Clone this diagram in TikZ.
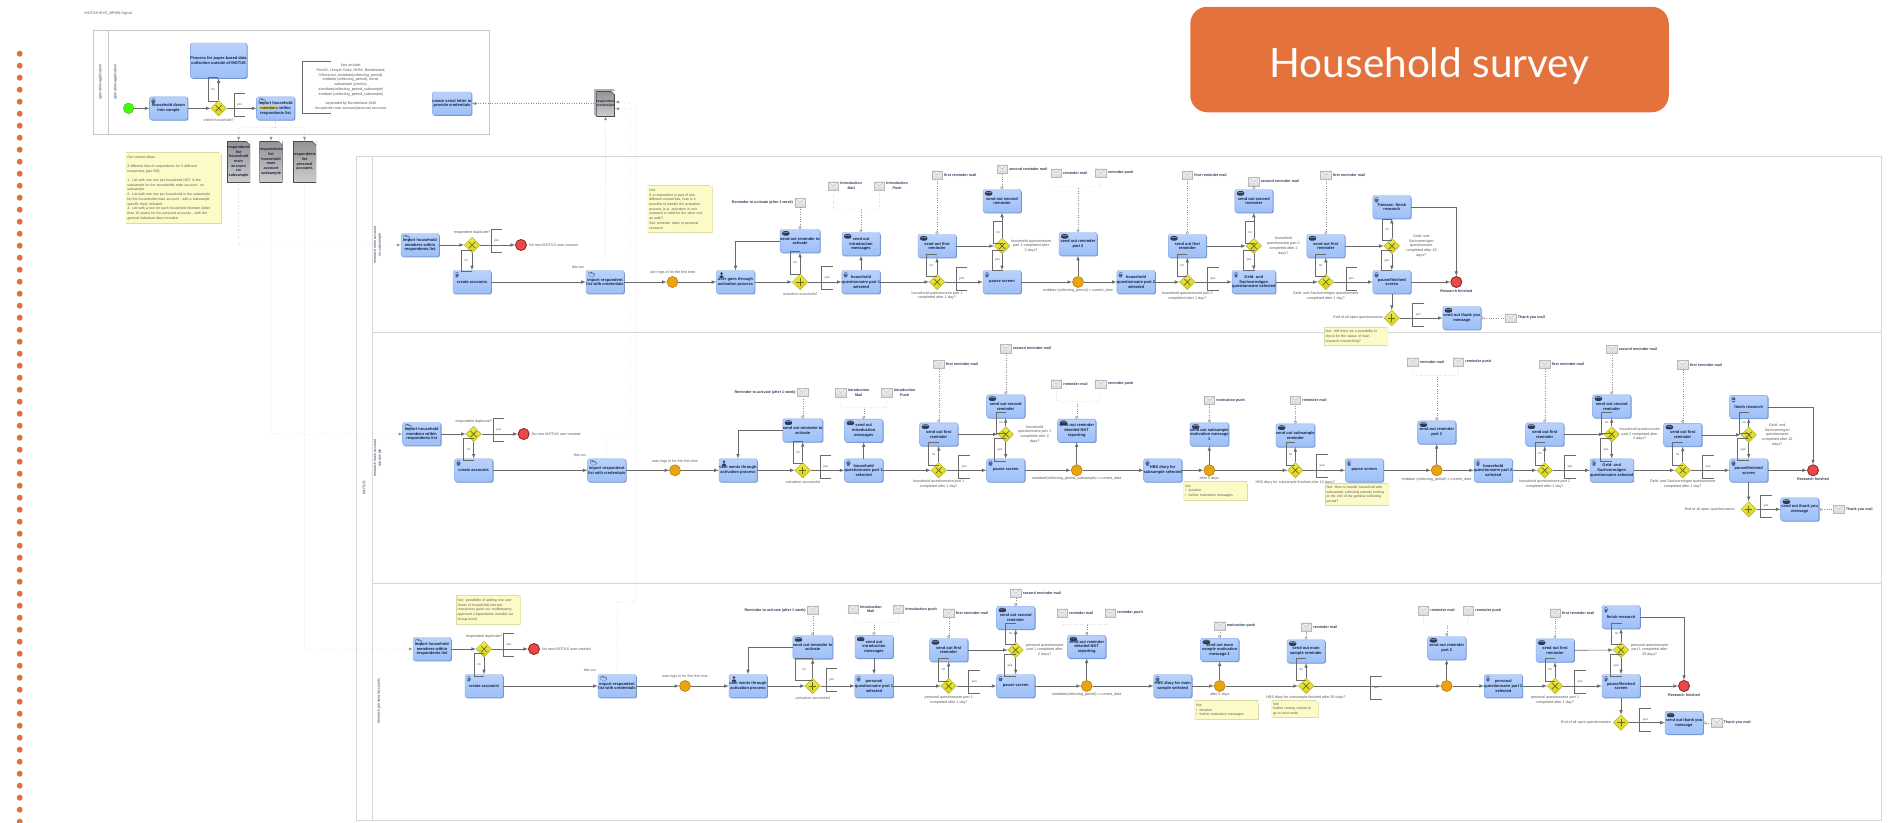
\documentclass[tikz,border=0pt]{standalone}
\usepackage{fontspec}
\setmainfont{Liberation Sans}
\newfontfamily\titlefont{Lato}
\usetikzlibrary{shapes.geometric,shadows,arrows.meta}
\definecolor{accent}{HTML}{E4723C}
\definecolor{taskhi}{HTML}{B9D2FC}
\definecolor{tasklo}{HTML}{9DC0F8}
\definecolor{taskline}{HTML}{7FA4E2}
\definecolor{taskshade}{HTML}{6F8FC4}
\definecolor{tasktext}{HTML}{16233F}
\definecolor{taskicon}{HTML}{4C6696}
\definecolor{iconink}{HTML}{2E3C58}
\definecolor{flowline}{HTML}{6A6A6A}
\definecolor{lblgray}{HTML}{5A5A5A}
\definecolor{dotline}{HTML}{8E8E8E}
\definecolor{poolline}{HTML}{D6D6D6}
\definecolor{gatefill}{HTML}{E8E41E}
\definecolor{gateline}{HTML}{B4B020}
\definecolor{gatemark}{HTML}{6E6C10}
\definecolor{timerfill}{HTML}{EBA40E}
\definecolor{timerline}{HTML}{B87C10}
\definecolor{endfill}{HTML}{EC4848}
\definecolor{endline}{HTML}{8A2A2A}
\definecolor{notefill}{HTML}{FCFBC8}
\definecolor{noteline}{HTML}{DCDCA8}
\definecolor{markhi}{HTML}{F0E068}
\newcommand{\tasksize}{\fontsize{4}{4.7}\selectfont}
\newcommand{\lblsize}{\fontsize{3.7}{4.7}\selectfont}
\newcommand{\annotbox}[6]{%
  \node (#1)[annot, minimum width=#4pt, minimum height=#5pt] at (#2,#3) {#6};
  \draw[annotline] (#1.north east) -- (#1.north west) -- (#1.south west) -- (#1.south east);}
\tikzset{
  pool/.style={draw=poolline, line width=1pt},
  lbl/.style={align=center, inner sep=0pt, text=lblgray, font=\lblsize},
  mailtext/.style={lbl, text=iconink, font=\lblsize\bfseries},
  lanetext/.style={lbl, text=iconink, rotate=90},
  flow/.style={->, >=latex, draw=flowline, line width=.6pt},
  assoc/.style={>=latex, draw=dotline, line width=.4pt, dotted, rounded corners=1.5pt},
  msg/.style={assoc, {Circle[open, fill=white, length=3pt]}-},
  annot/.style={anchor=north west, inner sep=0pt, outer sep=0pt, text=lblgray, font=\fontsize{3.2}{4}\selectfont},
  annotline/.style={draw=flowline, line width=.5pt},
  task/.style={rectangle, rounded corners=2pt, draw=taskline, line width=.4pt, top color=taskhi, bottom color=tasklo,
    minimum width=38pt, minimum height=23pt, inner sep=0pt, align=center, text=tasktext, font=\tasksize\bfseries,
    general shadow={shadow xshift=.8pt, shadow yshift=-.8pt, fill=taskshade}},
  svctask/.style={task, path picture={
    \draw[taskicon, line width=.3pt] ([shift={(2pt,-1.8pt)}]path picture bounding box.north west) rectangle ++(3.6pt,-5pt);
    \draw[taskicon, line width=.3pt] ([shift={(2.6pt,-3.2pt)}]path picture bounding box.north west) -- ++(2.4pt,0pt) ++(-2.4pt,-1.1pt) -- ++(2.4pt,0pt) ++(-2.4pt,-1.1pt) -- ++(2.4pt,0pt);}},
  foldertask/.style={task, path picture={
    \draw[taskicon, line width=.3pt] ([shift={(2pt,-2pt)}]path picture bounding box.north west) -- ++(3pt,0pt) -- ++(1pt,-1pt) -- ++(3.4pt,0pt) -- ++(-1pt,-3.4pt) -- ++(-5.4pt,0pt) -- cycle;}},
  mailtask/.style={task, path picture={
    \fill[iconink] ([shift={(2pt,-1.6pt)}]path picture bounding box.north west) rectangle ++(7.4pt,-4.4pt);
    \draw[white, line width=.25pt] ([shift={(2.6pt,-2.2pt)}]path picture bounding box.north west) -- ++(3.1pt,-1.6pt) -- ++(3.1pt,1.6pt);}},
  usertask/.style={task, path picture={
    \fill[iconink] ([shift={(5pt,-3pt)}]path picture bounding box.north west) circle (1.4pt);
    \fill[iconink] ([shift={(2.2pt,-7.4pt)}]path picture bounding box.north west) -- ++(1.4pt,3pt) -- ++(2.8pt,0pt) -- ++(1.4pt,-3pt) -- cycle;}},
  gate/.style={diamond, shape aspect=1, minimum width=15.5pt, minimum height=15.5pt, inner sep=0pt,
    draw=gateline, line width=.5pt, top color=gatefill!80!white, bottom color=gatefill!92!black},
  gatex/.style={gate, path picture={
    \draw[gatemark, line width=.7pt] ([shift={(-3pt,3pt)}]path picture bounding box.center) -- ++(6pt,-6pt) ++(-6pt,0pt) -- ++(6pt,6pt);}},
  gateplus/.style={gate, path picture={
    \draw[gatemark, line width=.7pt] ([shift={(-3.6pt,0pt)}]path picture bounding box.center) -- ++(7.2pt,0pt) ++(-3.6pt,3.6pt) -- ++(0pt,-7.2pt);}},
  startev/.style={circle, minimum size=10.5pt, inner sep=0pt, fill=green!75!yellow, draw=green!45!gray, line width=.5pt},
  timer/.style={circle, minimum size=11pt, inner sep=0pt, fill=timerfill, draw=timerline, line width=.6pt},
  endev/.style={circle, minimum size=11pt, inner sep=0pt, fill=endfill, draw=endline, line width=.9pt},
  mail/.style={rectangle, minimum width=10.5pt, minimum height=8.5pt, inner sep=0pt, top color=gray!10, bottom color=gray!30, draw=gray!55, line width=.3pt,
    path picture={\draw[gray!60, line width=.25pt] (path picture bounding box.north west) -- (path picture bounding box.center) -- (path picture bounding box.north east);}},
  mailr/.style={mail, label={[mailtext, label distance=1.5pt]right:#1}},
  maill/.style={mail, label={[mailtext, label distance=1.5pt]left:#1}},
  note/.style={rectangle, anchor=north west, inner sep=1.5pt, fill=notefill, align=left, text=lblgray, font=\fontsize{3.5}{4.7}\selectfont,
    path picture={
      \draw[noteline, line width=1pt] (path picture bounding box.north west) rectangle (path picture bounding box.south east);
      \fill[white] ([xshift=-3pt]path picture bounding box.north east) -- (path picture bounding box.north east) -- ([yshift=-3pt]path picture bounding box.north east) -- cycle;
      \draw[noteline, line width=.4pt] ([xshift=-3pt]path picture bounding box.north east) -- ([yshift=-3pt]path picture bounding box.north east);}},
  doc/.style={rectangle, minimum height=41pt, inner sep=0pt, align=center, top color=gray!85, bottom color=gray!40, text=tasktext, font=\fontsize{3.8}{4.7}\selectfont\bfseries,
    path picture={
      \draw[gray!60!black, line width=.7pt] (path picture bounding box.north west) rectangle (path picture bounding box.south east);
      \fill[white] ([xshift=-4pt]path picture bounding box.north east) -- (path picture bounding box.north east) -- ([yshift=-4pt]path picture bounding box.north east) -- cycle;
      \draw[gray!60!black, line width=.4pt] ([xshift=-4pt]path picture bounding box.north east) -- ([yshift=-4pt]path picture bounding box.north east);}},
}
\begin{document}
\begin{tikzpicture}[x=1pt,y=-1pt]
  \useasboundingbox (0,0) rectangle (1895,822);
  \foreach \k in {0,...,64}
    \fill[accent] (19.7,53.7+12*\k) circle (3pt);
  \node (title)[rectangle, rounded corners=17pt, fill=accent, minimum width=478.5pt, minimum height=105.5pt] at (1429.5,59.5) {};
  \node (titlet)[text=white, inner sep=0pt, font=\titlefont\fontsize{40.5}{46}\selectfont] at (1429.5,65.7) {Household survey};
  \node (file)[lbl, anchor=west] at (84.5,14) {MOTUS+EVS\_BPMN:Signal};
  % pools
  \draw[pool, draw=gray!45] (93,30.7) rectangle (489,134);
  \draw[pool, draw=gray!45] (108.6,30.7) -- (108.6,134);
  \draw[pool] (356.7,156.7) rectangle (1881,820);
  \draw[pool] (372.3,156.7) -- (372.3,820);
  \draw[pool] (372.3,332.7) -- (1881,332.7);
  \draw[pool] (372.3,583.3) -- (1881,583.3);
  \node (oplane)[lanetext] at (100.4,82) {operation-application};
  \node (oplane2)[lanetext] at (115.5,82) {operation-application};
  \node (motus)[lanetext] at (364,488) {MOTUS};
  \node (lanea)[lanetext] at (377.5,245) {research main account\\no subsample};
  \node (laneb)[lanetext] at (377.5,458) {research main account\\subsample};
  \node (lanec)[lanetext] at (379,701) {research personal accounts};
  % operation lane
  \node (st)[startev] at (128.6,108.3) {};
  \node (drw)[svctask, node distance=40pt, right of=st] {household drawn\\into sample};
  \node (onl)[gatex, node distance=50pt, right of=drw] {};
  \node (onll)[lbl, node distance=12pt, below of=onl] {online household?};
  \node (big)[task, minimum width=56.4pt, minimum height=35pt, node distance=47.8pt, above of=onl] {Process for paper-based data\\collection outside of MOTUS};
  \node (imh)[foldertask, node distance=57pt, right of=onl] {import household\\{\fboxsep0pt\colorbox{markhi}{members}} within\\respondents list};
  \annotbox{onln}{208}{77.7}{10.4}{23.3}{no}
  \annotbox{only}{234}{93.3}{11}{23.4}{yes}
  \annotbox{lstb}{302}{61}{29.4}{52}{}
  \node (lstt)[lbl] at (351,87) {lists include:\\PersID, Unique Code, HHNr, Bundesland,\\IVKontrast, startdate(collecting\_period),\\enddate (collecting\_period), email,\\subsample (yes/no),\\startdate(collecting\_period\_subsample)\\enddate (collecting\_period\_subsample)\\[4.7pt]seperated by Bundesland AND\\household main account/personal accounts};
  \node (ser)[task] at (452,103.5) {create serial letter to\\provide credentials};
  \node (cred)[doc, minimum width=18pt, minimum height=25pt, double copy shadow={shadow xshift=-1pt, shadow yshift=1pt, fill=gray!50, draw=gray!60}, font=\fontsize{3.4}{4.2}\selectfont\bfseries] at (605.5,103.5) {respondent\\credentials};
  \node (doca)[doc, minimum width=22.5pt] at (238.6,161.5) {respondents\\list\\household\\main\\account\\no\\subsample};
  \node (docb)[doc, minimum width=22.8pt] at (271,161.5) {respondents\\list\\household\\main\\account\\subsample};
  \node (docc)[doc, minimum width=23pt] at (304.5,161.5) {respondents\\list\\personal\\accounts};
  \node (idea)[note, text width=93pt, minimum height=71pt] at (125.7,152) {Our current ideas:\\[4.7pt]3 different lists of respondents for 3 different\\researches (per RD):\\[4.7pt]1. List with one row per household NOT in the\\subsample for the households main account - no\\subsample\\2. List with one row per household in the subsample\\for the households main account - with a subsample\\specific diary included\\3. List with a row for each household member (older\\than 16 years) for the personal accounts - with the\\general individual diary included};
  \draw[flow] (st.east) to (drw.west);
  \draw[flow] (drw.east) to (onl.west);
  \draw[flow] (onl.east) to (imh.west);
  \draw[flow] (onl.north) to (big.south);
  \node (split)[coordinate] at (275.5,127.7) {};
  \draw[assoc] (imh.south) to (split);
  \draw[assoc,->] (split) -| (doca.north);
  \draw[assoc,->] (split) -| (docb.north);
  \draw[assoc,->] (split) -| (docc.north);
  \draw[assoc,->] (cred.west) to (ser.east);
  % research main account, no subsample
  \node (imp1)[foldertask] at (420,245) {import household\\members within\\respondents list};
  \node (dup1)[gatex, node distance=52pt, right of=imp1] {};
  \node (dup1l)[lbl, node distance=12pt, above of=dup1] {respondent duplicate?};
  \annotbox{dup1y}{491}{229.3}{11}{23.4}{yes}
  \node (dup1e)[endev, node distance=49pt, right of=dup1, label={[lbl, label distance=2pt]right:No new MOTUS user created}] {};
  \node (acc1)[svctask, node distance=37pt, below of=dup1] {create accounts};
  \annotbox{dup1n}{461}{250}{10.7}{21.7}{no}
  \node (imc1)[foldertask, node distance=133pt, right of=acc1] {import respondent\\list with credentials};
  \node (imc1l)[lbl] at (578,266.7) {this.csv};
  \node (log1)[timer, node distance=67.5pt, right of=imc1] {};
  \node (log1l)[lbl, node distance=9pt, above of=log1] {user logs in for the first time};
  \node (act1)[usertask, node distance=63pt, right of=log1] {user goes through\\activation process};
  \node (gact1)[gateplus, node distance=64.5pt, right of=act1] {};
  \node (gact1l)[lbl, node distance=12pt, below of=gact1] {activation successful};
  \node (rem1)[mailtask, node distance=41pt, above of=gact1] {send out reminder to\\activate};
  \node (rem1m)[maill={Reminder to activate (after 1 week)}, node distance=38.5pt, above of=rem1] {};
  \annotbox{gact1n}{790.3}{251.7}{9.7}{22.3}{no}
  \annotbox{gact1y}{821.7}{266.7}{11}{22.6}{yes}
  \node (q11)[svctask, node distance=61pt, right of=gact1] {household\\questionnaire part 1\\selected};
  \node (int1)[mailtask, node distance=38pt, above of=q11] {send out\\introduction\\messages};
  \node (int1j)[coordinate, node distance=34pt, above of=int1] {};
  \node (int1a)[mailr={Introduction\\Mail}] at (833.3,186) {};
  \node (int1b)[mailr={Introduction\\Push}] at (879.3,186) {};
  \node (g11)[gatex, node distance=76pt, right of=q11] {};
  \node (g11l)[lbl, node distance=13.5pt, below of=g11] {household questionnaire part 1\\completed after 1 day?};
  \node (fr11)[mailtask, node distance=36pt, above of=g11] {send out first\\reminder};
  \node (fr11m)[mailr={first reminder mail}, node distance=71pt, above of=fr11] {};
  \annotbox{g11n}{926.3}{254}{10.4}{22.7}{no}
  \annotbox{g11y}{956}{267.3}{11.3}{22.7}{yes}
  \node (pz1)[svctask, node distance=65pt, right of=g11] {pause screen};
  \node (g12)[gatex, node distance=36pt, above of=pz1] {};
  \node (g12l)[lbl, node distance=29pt, right of=g12] {household questionnaire\\part 1 completed after\\2 days?};
  \node (sr11)[mailtask, node distance=45pt, above of=g12] {send out second\\reminder};
  \node (sr11m)[mailr={second reminder mail}, node distance=32pt, above of=sr11] {};
  \annotbox{g12n}{993.3}{221.7}{9.4}{21.6}{no}
  \annotbox{g12y}{992.3}{250.7}{10.4}{19.3}{yes}
  \node (t11)[timer, node distance=76pt, right of=pz1] {};
  \node (t11l)[lbl, node distance=9pt, below of=t11] {enddate (collecting\_period) = current\_date};
  \node (rp1)[mailtask, node distance=38pt, above of=t11] {send out reminder\\part 2};
  \node (rp1j)[coordinate, node distance=57pt, above of=rp1] {};
  \node (rp1a)[mailr={reminder mail}] at (1056,173) {};
  \node (rp1b)[mailr={reminder push}] at (1100.7,173) {};
  \node (q12)[svctask, node distance=58pt, right of=t11] {household\\questionnaire part 2\\selected};
  \node (g13)[gatex, node distance=51.3pt, right of=q12] {};
  \node (g13l)[lbl, node distance=14pt, below of=g13] {household questionnaire part 2\\completed after 1 day?};
  \node (fr12)[mailtask, node distance=36pt, above of=g13] {send out first\\reminder};
  \node (fr12m)[mailr={first reminder mail}, node distance=71pt, above of=fr12] {};
  \annotbox{g13n}{1177.3}{254}{10}{22.7}{no}
  \annotbox{g13y}{1207.3}{267.3}{11.4}{22.7}{yes}
  \node (gld1)[svctask, node distance=66.5pt, right of=g13] {Geld- und\\Sachvermögen\\questionnaire selected};
  \node (g14)[gatex, node distance=36pt, above of=gld1] {};
  \node (g14l)[lbl, node distance=29.5pt, right of=g14] {household\\questionnaire part 2\\completed after 2\\days?};
  \node (sr12)[mailtask, node distance=45pt, above of=g14] {send out second\\reminder};
  \node (sr12m)[mailr={second reminder mail}, node distance=19.5pt, above of=sr12] {};
  \annotbox{g14n}{1245}{221.7}{9.7}{21.6}{no}
  \annotbox{g14y}{1243.3}{250.7}{11.4}{19.3}{yes}
  \node (g15)[gatex, node distance=72pt, right of=gld1] {};
  \node (g15l)[lbl, node distance=14pt, below of=g15] {Geld- und Sachvermögen questionnaire\\completed after 1 day?};
  \node (fr13)[mailtask, node distance=36pt, above of=g15] {send out first\\reminder};
  \node (fr13m)[mailr={first reminder mail}, node distance=71pt, above of=fr13] {};
  \annotbox{g15n}{1315.7}{254}{10}{22.7}{no}
  \annotbox{g15y}{1346}{267.3}{10.7}{22.7}{yes}
  \node (pf1)[svctask, node distance=66pt, right of=g15] {pause/finished\\screen};
  \node (g16)[gatex, node distance=36pt, above of=pf1] {};
  \node (g16l)[lbl, node distance=29.5pt, right of=g16] {Geld- und\\Sachvermögen\\questionnaire\\completed after 15\\days?};
  \node (fin1)[svctask, node distance=39pt, above of=g16] {Timeout: finish\\research};
  \annotbox{g16n}{1382.7}{219}{9.1}{21}{no}
  \annotbox{g16y}{1381.7}{250.7}{10.1}{20}{yes}
  \node (end1)[endev, node distance=64.5pt, right of=pf1] {};
  \node (end1l)[mailtext, node distance=9pt, below of=end1] {Research finished};
  \node (g17)[gateplus, node distance=36pt, below of=pf1] {};
  \node (g17l)[lbl, node distance=33.5pt, left of=g17] {End of all open questionnaires};
  \annotbox{g17y}{1412.7}{303.3}{11.3}{22.7}{yes}
  \node (thk1)[mailtask, node distance=70pt, right of=g17] {send out thank you\\message};
  \node (thk1m)[mailr={Thank you mail}, node distance=49pt, right of=thk1] {};
  \node (nsta)[note, text width=61pt, minimum height=18.4pt] at (1324,327.3) {Not: Will there be a possibility to\\check for the status of main\\research overarching?};
  \node (nact)[note, text width=61.6pt, minimum height=47.7pt] at (647.7,185) {Not:\\If a respondent is part of two\\different researches, how is it\\possible to handle the activation\\process (e.g. activation in one\\research is valid for the other one\\as well)?\\See reminder mails in personal\\research};
  \draw[flow] (imp1.east) to (dup1.west);
  \draw[flow] (dup1.east) to (dup1e.west);
  \draw[flow] (dup1.south) to (acc1.north);
  \draw[flow] (acc1.east) to (imc1.west);
  \draw[flow] (imc1.east) to (log1.west);
  \draw[flow] (log1.east) to (act1.west);
  \draw[flow] (act1.east) to (gact1.west);
  \draw[flow] (gact1.north) to (rem1.south);
  \draw[flow] (rem1.west) -| (act1.north);
  \draw[flow] (gact1.east) to (q11.west);
  \draw[flow] (q11.north) to (int1.south);
  \draw[flow] (q11.east) to (g11.west);
  \draw[flow] (g11.north) to (fr11.south);
  \draw[flow] (fr11.east) to (g12.west);
  \draw[flow] (g11.east) to (pz1.west);
  \draw[flow] (g12.south) to (pz1.north);
  \draw[flow] (g12.north) to (sr11.south);
  \draw[flow] (pz1.east) to (t11.west);
  \draw[flow] (t11.north) to (rp1.south);
  \draw[flow] (t11.east) to (q12.west);
  \draw[flow] (q12.east) to (g13.west);
  \draw[flow] (g13.north) to (fr12.south);
  \draw[flow] (fr12.east) to (g14.west);
  \draw[flow] (g13.east) to (gld1.west);
  \draw[flow] (g14.south) to (gld1.north);
  \draw[flow] (g14.north) to (sr12.south);
  \draw[flow] (gld1.east) to (g15.west);
  \draw[flow] (g15.north) to (fr13.south);
  \draw[flow] (fr13.east) to (g16.west);
  \draw[flow] (g15.east) to (pf1.west);
  \draw[flow] (g16.south) to (pf1.north);
  \draw[flow] (g16.north) to (fin1.south);
  \draw[flow] (pf1.east) to (end1.west);
  \draw[flow] (fin1.east) -| (end1.north);
  \draw[flow] (pf1.south) to (g17.north);
  \draw[flow] (g17.east) to (thk1.west);
  \draw[msg] (rem1.north) to (rem1m.south);
  \draw[msg] (int1.north) to (int1j);
  \draw[assoc] (int1a.south) |- (int1j) -| (int1b.south);
  \draw[msg] (fr11.north) to (fr11m.south);
  \draw[msg] (sr11.north) to (sr11m.south);
  \draw[msg] (rp1.north) to (rp1j);
  \draw[assoc] (rp1a.south) |- (rp1j) -| (rp1b.south);
  \draw[msg] (fr12.north) to (fr12m.south);
  \draw[msg] (sr12.north) to (sr12m.south);
  \draw[msg] (fr13.north) to (fr13m.south);
  \draw[msg] (thk1.east) to (thk1m.west);
  % research main account, subsample
  \node (imp2)[foldertask] at (421.7,434) {import household\\members within\\respondents list};
  \node (dup2)[gatex, node distance=52pt, right of=imp2] {};
  \node (dup2l)[lbl, node distance=12pt, above of=dup2] {respondent duplicate?};
  \annotbox{dup2y}{493.3}{418.3}{10.7}{22.7}{yes}
  \node (dup2e)[endev, node distance=50pt, right of=dup2, label={[lbl, label distance=2pt]right:No new MOTUS user created}] {};
  \node (acc2)[svctask, node distance=36.3pt, below of=dup2] {create accounts};
  \annotbox{dup2n}{463.7}{438.7}{10}{22}{no}
  \node (imc2)[foldertask, node distance=133pt, right of=acc2] {import respondent\\list with credentials};
  \node (imc2l)[lbl] at (580,455) {this.csv};
  \node (log2)[timer, node distance=68.3pt, right of=imc2] {};
  \node (log2l)[lbl, node distance=9pt, above of=log2] {user logs in for the first time};
  \node (act2)[usertask, node distance=63pt, right of=log2] {user wents through\\activation process};
  \node (gact2)[gateplus, node distance=64.7pt, right of=act2] {};
  \node (gact2l)[lbl, node distance=11.7pt, below of=gact2] {activation successful};
  \node (rem2)[mailtask, node distance=40pt, above of=gact2] {send out reminder to\\activate};
  \node (rem2m)[maill={Reminder to activate (after 1 week)}, node distance=38pt, above of=rem2] {};
  \annotbox{gact2n}{793}{441}{9.7}{22.3}{no}
  \annotbox{gact2y}{820.3}{455.3}{11}{22.7}{yes}
  \node (q21)[svctask, node distance=61pt, right of=gact2] {household\\questionnaire part 1\\selected};
  \node (int2)[mailtask, node distance=39.7pt, above of=q21] {send out\\introduction\\messages};
  \node (int2j)[coordinate, node distance=22.7pt, above of=int2] {};
  \node (int2a)[mailr={Introduction\\Mail}] at (840.7,392.5) {};
  \node (int2b)[mailr={Introduction\\Push}] at (886.7,392.5) {};
  \node (g21)[gatex, node distance=75pt, right of=q21] {};
  \node (g21l)[lbl, node distance=14pt, below of=g21] {household questionnaire part 1\\completed after 1 day?};
  \node (fr21)[mailtask, node distance=36pt, above of=g21] {send out first\\reminder};
  \node (fr21m)[mailr={first reminder mail}, node distance=70pt, above of=fr21] {};
  \annotbox{g21n}{928.7}{442.7}{10}{23}{no}
  \annotbox{g21y}{958.7}{455.3}{11.3}{22.7}{yes}
  \node (pz2)[svctask, node distance=67pt, right of=g21] {pause screen};
  \node (g22)[gatex, node distance=36pt, above of=pz2] {};
  \node (g22l)[lbl, node distance=29pt, right of=g22] {household\\questionnaire part 1\\completed after 2\\days?};
  \node (sr21)[mailtask, node distance=28pt, above of=g22] {send out second\\reminder};
  \node (sr21m)[mailr={second reminder mail}, node distance=57.7pt, above of=sr21] {};
  \annotbox{g22n}{996}{412.3}{9.7}{21}{no}
  \annotbox{g22y}{994.3}{438.7}{11.4}{23}{yes}
  \node (t21)[timer, node distance=71pt, right of=pz2] {};
  \node (t21l)[lbl, node distance=8pt, below of=t21] {startdate(collecting\_period\_subsample) = current\_date};
  \node (rp2)[mailtask, node distance=39.7pt, above of=t21] {send out reminder\\detailed NKT\\reporting};
  \node (rp2j)[coordinate, node distance=28.7pt, above of=rp2] {};
  \node (rp2a)[mailr={reminder mail}] at (1056.3,384) {};
  \node (rp2b)[mailr={reminder push}] at (1100.7,384) {};
  \node (hbs2)[svctask, node distance=86pt, right of=t21] {HBS diary for\\subsample selected};
  \node (t22)[timer, node distance=46.6pt, right of=hbs2] {};
  \node (t22l)[lbl, node distance=8.5pt, below of=t22] {after 5 days};
  \node (mot2)[mailtask, node distance=36pt, above of=t22] {send out subsample\\motivation message\\1};
  \node (mot2m)[mailr={motivation push}, node distance=34pt, above of=mot2] {};
  \node (nmot2)[note, text width=61.4pt, minimum height=18.3pt] at (1183.3,481.7) {Not:\\\textbullet\ \ duration\\\textbullet\ \ further motivation messages};
  \node (g23)[gatex, node distance=86pt, right of=t22] {};
  \node (g23l)[lbl, node distance=12pt, below of=g23] {HBS diary for subsample finished after 10 days?};
  \node (srm2)[mailtask, node distance=35pt, above of=g23] {send out subsample\\reminder};
  \node (srm2m)[mailr={reminder mail}, node distance=35pt, above of=srm2] {};
  \annotbox{g23n}{1286}{442.7}{9.3}{23}{no}
  \annotbox{g23y}{1316.7}{454.3}{11}{23}{yes}
  \node (pz22)[svctask, node distance=69pt, right of=g23] {pause screen};
  \node (nhow)[note, text width=61pt, minimum height=22.4pt] at (1325,483.3) {Not: How to handle household with\\subsample collecting periods ending\\at the end of the general collecting\\period?};
  \node (t23)[timer, node distance=72.4pt, right of=pz22] {};
  \node (t23l)[lbl, node distance=9pt, below of=t23] {enddate (collecting\_period) = current\_date};
  \node (rp22)[mailtask, node distance=38pt, above of=t23] {send out reminder\\part 2};
  \node (rp22j)[coordinate, node distance=57pt, above of=rp22] {};
  \node (rp22a)[mailr={reminder mail}] at (1412.7,362) {};
  \node (rp22b)[mailr={reminder push}] at (1458.3,362) {};
  \node (q22)[svctask, node distance=56.5pt, right of=t23] {household\\questionnaire part 2\\selected};
  \node (g24)[gatex, node distance=51.5pt, right of=q22] {};
  \node (g24l)[lbl, node distance=14pt, below of=g24] {household questionnaire part 2\\completed after 1 day?};
  \node (fr22)[mailtask, node distance=36pt, above of=g24] {send out first\\reminder};
  \node (fr22m)[mailr={first reminder mail}, node distance=70pt, above of=fr22] {};
  \annotbox{g24n}{1535}{442.3}{9.7}{22.7}{no}
  \annotbox{g24y}{1564.3}{455.3}{11.4}{22.7}{yes}
  \node (gld2)[svctask, node distance=67pt, right of=g24] {Geld- und\\Sachvermögen\\questionnaire selected};
  \node (g25)[gatex, node distance=36pt, above of=gld2] {};
  \node (g25l)[lbl, node distance=28pt, right of=g25] {household questionnaire\\part 2 completed after\\2 days?};
  \node (sr22)[mailtask, node distance=28pt, above of=g25] {send out second\\reminder};
  \node (sr22m)[mailr={second reminder mail}, node distance=57pt, above of=sr22] {};
  \annotbox{g25n}{1601.7}{412.3}{10}{21}{no}
  \annotbox{g25y}{1600.3}{438.7}{11.4}{23}{yes}
  \node (g26)[gatex, node distance=71pt, right of=gld2] {};
  \node (g26l)[lbl, node distance=14pt, below of=g26] {Geld- und Sachvermögen questionnaire\\completed after 1 day?};
  \node (fr23)[mailtask, node distance=35.5pt, above of=g26] {send out first\\reminder};
  \node (fr23m)[mailr={first reminder mail}, node distance=70pt, above of=fr23] {};
  \annotbox{g26n}{1672.7}{442.7}{10}{23}{no}
  \annotbox{g26y}{1702.7}{455.3}{11}{22.7}{yes}
  \node (pf2)[svctask, node distance=66pt, right of=g26] {pause/finished\\screen};
  \node (g27)[gatex, node distance=35.5pt, above of=pf2] {};
  \node (g27l)[lbl, node distance=28.5pt, right of=g27] {Geld- und\\Sachvermögen\\questionnaire\\completed after 15\\days?};
  \node (fin2)[svctask, node distance=28pt, above of=g27] {finish research};
  \annotbox{g27n}{1739.3}{412}{9.4}{21.3}{no}
  \annotbox{g27y}{1737.7}{438.7}{11}{22}{yes}
  \node (end2)[endev, node distance=64.3pt, right of=pf2] {};
  \node (end2l)[mailtext, node distance=9pt, below of=end2] {Research finished};
  \node (g28)[gateplus, node distance=39pt, below of=pf2] {};
  \node (g28l)[lbl, node distance=39pt, left of=g28] {End of all open questionnaires};
  \annotbox{g28y}{1760.3}{495}{11.4}{22.7}{yes}
  \node (thk2)[mailtask, node distance=51pt, right of=g28] {send out thank you\\message};
  \node (thk2m)[mailr={Thank you mail}, node distance=39pt, right of=thk2] {};
  \draw[flow] (imp2.east) to (dup2.west);
  \draw[flow] (dup2.east) to (dup2e.west);
  \draw[flow] (dup2.south) to (acc2.north);
  \draw[flow] (acc2.east) to (imc2.west);
  \draw[flow] (imc2.east) to (log2.west);
  \draw[flow] (log2.east) to (act2.west);
  \draw[flow] (act2.east) to (gact2.west);
  \draw[flow] (gact2.north) to (rem2.south);
  \draw[flow] (rem2.west) -| (act2.north);
  \draw[flow] (gact2.east) to (q21.west);
  \draw[flow] (q21.north) to (int2.south);
  \draw[flow] (q21.east) to (g21.west);
  \draw[flow] (g21.north) to (fr21.south);
  \draw[flow] (fr21.east) to (g22.west);
  \draw[flow] (g21.east) to (pz2.west);
  \draw[flow] (g22.south) to (pz2.north);
  \draw[flow] (g22.north) to (sr21.south);
  \draw[flow] (pz2.east) to (t21.west);
  \draw[flow] (t21.north) to (rp2.south);
  \draw[flow] (t21.east) to (hbs2.west);
  \draw[flow] (hbs2.east) to (t22.west);
  \draw[flow] (t22.north) to (mot2.south);
  \draw[flow] (t22.east) to (g23.west);
  \draw[flow] (g23.north) to (srm2.south);
  \draw[flow] (g23.east) to (pz22.west);
  \draw[flow] (pz22.east) to (t23.west);
  \draw[flow] (t23.north) to (rp22.south);
  \draw[flow] (t23.east) to (q22.west);
  \draw[flow] (q22.east) to (g24.west);
  \draw[flow] (g24.north) to (fr22.south);
  \draw[flow] (fr22.east) to (g25.west);
  \draw[flow] (g24.east) to (gld2.west);
  \draw[flow] (g25.south) to (gld2.north);
  \draw[flow] (g25.north) to (sr22.south);
  \draw[flow] (gld2.east) to (g26.west);
  \draw[flow] (g26.north) to (fr23.south);
  \draw[flow] (fr23.east) to (g27.west);
  \draw[flow] (g26.east) to (pf2.west);
  \draw[flow] (g27.south) to (pf2.north);
  \draw[flow] (g27.north) to (fin2.south);
  \draw[flow] (pf2.east) to (end2.west);
  \draw[flow] (fin2.east) -| (end2.north);
  \draw[flow] (pf2.south) to (g28.north);
  \draw[flow] (g28.east) to (thk2.west);
  \draw[msg] (rem2.north) to (rem2m.south);
  \draw[msg] (int2.north) to (int2j);
  \draw[assoc] (int2a.south) |- (int2j) -| (int2b.south);
  \draw[msg] (fr21.north) to (fr21m.south);
  \draw[msg] (sr21.north) to (sr21m.south);
  \draw[msg] (rp2.north) to (rp2j);
  \draw[assoc] (rp2a.south) |- (rp2j) -| (rp2b.south);
  \draw[msg] (mot2.north) to (mot2m.south);
  \draw[msg] (srm2.north) to (srm2m.south);
  \draw[msg] (rp22.north) to (rp22j);
  \draw[assoc] (rp22a.south) |- (rp22j) -| (rp22b.south);
  \draw[msg] (fr22.north) to (fr22m.south);
  \draw[msg] (sr22.north) to (sr22m.south);
  \draw[msg] (fr23.north) to (fr23m.south);
  \draw[msg] (thk2.east) to (thk2m.west);
  % research personal accounts
  \node (imp3)[foldertask] at (432,649) {import household\\members within\\respondents list};
  \node (dup3)[gatex, node distance=52pt, right of=imp3] {};
  \node (dup3l)[lbl, node distance=12pt, above of=dup3] {respondent duplicate?};
  \annotbox{dup3y}{503.3}{633.3}{11}{23}{yes}
  \node (dup3e)[endev, node distance=50pt, right of=dup3, label={[lbl, label distance=2pt]right:No new MOTUS user created}] {};
  \node (acc3)[svctask, node distance=37pt, below of=dup3] {create accounts};
  \annotbox{dup3n}{474.3}{653.7}{9.7}{22.3}{no}
  \node (nten)[note, text width=61.3pt, minimum height=28.7pt] at (456,595.3) {Not: possibility of adding one user\\(head of household) into two\\researches given our multitenancy\\approach (respondents invisible via\\Group-level)};
  \node (imc3)[foldertask, node distance=133pt, right of=acc3] {import respondent\\list with credentials};
  \node (imc3l)[lbl] at (590,670) {this.csv};
  \node (log3)[timer, node distance=68pt, right of=imc3] {};
  \node (log3l)[lbl, node distance=9pt, above of=log3] {user logs in for the first time};
  \node (act3)[usertask, node distance=63pt, right of=log3] {user wents through\\activation process};
  \node (gact3)[gateplus, node distance=64.7pt, right of=act3] {};
  \node (gact3l)[lbl, node distance=11.7pt, below of=gact3] {activation successful};
  \node (rem3)[mailtask, node distance=38.8pt, above of=gact3] {send out reminder to\\activate};
  \node (rem3m)[maill={Reminder to activate (after 1 week)}, node distance=37pt, above of=rem3] {};
  \annotbox{gact3n}{795.3}{658}{17.4}{22.7}{no}
  \annotbox{gact3y}{826}{668.7}{11.3}{23}{yes}
  \node (q31)[svctask, node distance=61.3pt, right of=gact3] {personal\\questionnaire part 1\\selected};
  \node (int3)[mailtask, node distance=39.3pt, above of=q31] {send out\\introduction\\messages};
  \node (int3j)[coordinate, node distance=24pt, above of=int3] {};
  \node (int3a)[mailr={Introduction\\Mail}] at (853,609.3) {};
  \node (int3b)[mailr={Introduction push}] at (898.3,609.3) {};
  \node (g31)[gatex, node distance=74.7pt, right of=q31] {};
  \node (g31l)[lbl, node distance=14pt, below of=g31] {personal questionnaire part 1\\completed after 1 day?};
  \node (fr31)[mailtask, node distance=36pt, above of=g31] {send out first\\reminder};
  \node (fr31m)[mailr={first reminder mail}, node distance=37pt, above of=fr31] {};
  \annotbox{g31n}{938.7}{658.3}{10}{22.7}{no}
  \annotbox{g31y}{968.7}{670.7}{11.3}{23}{yes}
  \node (pz3)[svctask, node distance=67pt, right of=g31] {pause screen};
  \node (g32)[gatex, node distance=36pt, above of=pz3] {};
  \node (g32l)[lbl, node distance=29pt, right of=g32] {personal questionnaire\\part 1 completed after\\2 days?};
  \node (sr31)[mailtask, node distance=32.3pt, above of=g32] {send out second\\reminder};
  \node (sr31m)[mailr={second reminder mail}, node distance=24.7pt, above of=sr31] {};
  \annotbox{g32n}{1005.7}{623.3}{10}{20.7}{no}
  \annotbox{g32y}{1004.3}{654.3}{11.4}{22.4}{yes}
  \node (t31)[timer, node distance=71pt, right of=pz3] {};
  \node (t31l)[lbl, node distance=9pt, below of=t31] {startdate(collecting\_period) = current\_date};
  \node (rp3)[mailtask, node distance=39.3pt, above of=t31] {send out reminder\\detailed NKT\\reporting};
  \node (rp3j)[coordinate, node distance=22.4pt, above of=rp3] {};
  \node (rp3a)[mailr={reminder mail}] at (1062,613) {};
  \node (rp3b)[mailr={reminder push}] at (1110,613) {};
  \node (hbs3)[svctask, node distance=86pt, right of=t31] {HBS diary for main\\sample selected};
  \node (t32)[timer, node distance=47pt, right of=hbs3] {};
  \node (t32l)[lbl, node distance=8.5pt, below of=t32] {after 5 days};
  \node (mot3)[mailtask, node distance=36.3pt, above of=t32] {send out main\\sample motivation\\message 1};
  \node (mot3m)[mailr={motivation push}, node distance=23.7pt, above of=mot3] {};
  \node (nmot3)[note, text width=61.4pt, minimum height=19pt] at (1194.3,700.7) {Not:\\\textbullet\ \ duration\\\textbullet\ \ further motivation messages};
  \node (g33)[gatex, node distance=86.3pt, right of=t32] {};
  \node (g33l)[lbl, node distance=11.5pt, below of=g33] {HBS diary for subsample finished after 95 days?};
  \node (srm3)[mailtask, node distance=34.7pt, above of=g33] {send out main\\sample reminder};
  \node (srm3m)[mailr={reminder mail}, node distance=24.3pt, above of=srm3] {};
  \annotbox{g33n}{1296.3}{658.3}{9.7}{22.4}{no}
  \node (nclo)[note, text width=44pt, minimum height=17.7pt] at (1271.3,700) {Not:\\further closing criteria to\\go to next node};
  \annotbox{g33y}{1370.3}{676.7}{11.4}{22.6}{yes}
  \node (t33)[timer, node distance=140.7pt, right of=g33] {};
  \node (rp32)[mailtask, node distance=38pt, above of=t33] {send out reminder\\part 2};
  \node (rp32j)[coordinate, node distance=24pt, above of=rp32] {};
  \node (rp32a)[mailr={reminder mail}] at (1423.3,610.5) {};
  \node (rp32b)[mailr={reminder push}] at (1468.3,610.5) {};
  \node (q32)[svctask, node distance=56.6pt, right of=t33] {personal\\questionnaire part 2\\selected};
  \node (g34)[gatex, node distance=51.7pt, right of=q32] {};
  \node (g34l)[lbl, node distance=14pt, below of=g34] {personal questionnaire part 2\\completed after 1 day?};
  \node (fr32)[mailtask, node distance=35.7pt, above of=g34] {send out first\\reminder};
  \node (fr32m)[mailr={first reminder mail}, node distance=37.3pt, above of=fr32] {};
  \annotbox{g34n}{1545}{658.7}{10}{22.3}{no}
  \annotbox{g34y}{1574.3}{670.7}{11.4}{22.6}{yes}
  \node (pf3)[svctask, node distance=66pt, right of=g34] {pause/finished\\screen};
  \node (g35)[gatex, node distance=36pt, above of=pf3] {};
  \node (g35l)[lbl, node distance=28.5pt, right of=g35] {personal questionnaire\\part 1 completed after\\25 days?};
  \node (fin3)[svctask, node distance=33pt, above of=g35] {finish research};
  \annotbox{g35n}{1611.7}{623.3}{10}{20.7}{no}
  \annotbox{g35y}{1610.7}{654.3}{11}{22.4}{yes}
  \node (end3)[endev, node distance=63pt, right of=pf3] {};
  \node (end3l)[mailtext, node distance=9pt, below of=end3] {Research finished};
  \node (g36)[gateplus, node distance=36.7pt, below of=pf3] {};
  \node (g36l)[lbl, node distance=35pt, left of=g36] {End of all open questionnaires};
  \annotbox{g36y}{1639.7}{708}{11.3}{23}{yes}
  \node (thk3)[mailtask, node distance=63pt, right of=g36] {send out thank you\\message};
  \node (thk3m)[mailr={Thank you mail}, node distance=32.6pt, right of=thk3] {};
  \draw[flow] (imp3.east) to (dup3.west);
  \draw[flow] (dup3.east) to (dup3e.west);
  \draw[flow] (dup3.south) to (acc3.north);
  \draw[flow] (acc3.east) to (imc3.west);
  \draw[flow] (imc3.east) to (log3.west);
  \draw[flow] (log3.east) to (act3.west);
  \draw[flow] (act3.east) to (gact3.west);
  \draw[flow] (gact3.north) to (rem3.south);
  \draw[flow] (rem3.west) -| (act3.north);
  \draw[flow] (gact3.east) to (q31.west);
  \draw[flow] (int3.south) to (q31.north);
  \draw[flow] (q31.east) to (g31.west);
  \draw[flow] (g31.north) to (fr31.south);
  \draw[flow] (fr31.east) to (g32.west);
  \draw[flow] (g31.east) to (pz3.west);
  \draw[flow] (g32.south) to (pz3.north);
  \draw[flow] (g32.north) to (sr31.south);
  \draw[flow] (pz3.east) to (t31.west);
  \draw[flow] (t31.north) to (rp3.south);
  \draw[flow] (t31.east) to (hbs3.west);
  \draw[flow] (hbs3.east) to (t32.west);
  \draw[flow] (t32.north) to (mot3.south);
  \draw[flow] (t32.east) to (g33.west);
  \draw[flow] (g33.north) to (srm3.south);
  \draw[flow] (g33.east) to (t33.west);
  \draw[flow] (t33.north) to (rp32.south);
  \draw[flow] (t33.east) to (q32.west);
  \draw[flow] (q32.east) to (g34.west);
  \draw[flow] (g34.north) to (fr32.south);
  \draw[flow] (fr32.east) to (g35.west);
  \draw[flow] (g34.east) to (pf3.west);
  \draw[flow] (g35.south) to (pf3.north);
  \draw[flow] (g35.north) to (fin3.south);
  \draw[flow] (pf3.east) to (end3.west);
  \draw[flow] (fin3.east) -| (end3.north);
  \draw[flow] (pf3.south) to (g36.north);
  \draw[flow] (g36.east) to (thk3.west);
  \draw[msg] (rem3.north) to (rem3m.south);
  \draw[msg] (int3.north) to (int3j);
  \draw[assoc] (int3a.south) |- (int3j) -| (int3b.south);
  \draw[msg] (fr31.north) to (fr31m.south);
  \draw[msg] (sr31.north) to (sr31m.south);
  \draw[msg] (rp3.north) to (rp3j);
  \draw[assoc] (rp3a.south) |- (rp3j) -| (rp3b.south);
  \draw[msg] (mot3.north) to (mot3m.south);
  \draw[msg] (srm3.north) to (srm3m.south);
  \draw[msg] (rp32.north) to (rp32j);
  \draw[assoc] (rp32a.south) |- (rp32j) -| (rp32b.south);
  \draw[msg] (fr32.north) to (fr32m.south);
  \draw[msg] (thk3.east) to (thk3m.west);
  % lists and credentials across the pools
  \node (crda)[coordinate] at (615,102) {};
  \node (crdb)[coordinate] at (615,108.7) {};
  \node (crdc)[coordinate] at (630,438) {};
  \node (crdd)[coordinate] at (635.7,602) {};
  \draw[assoc,->] (doca.south) |- (imp1.west);
  \draw[assoc,->] (docb.south) |- (imp2.west);
  \draw[assoc,->] (docc.south) |- (imp3.west);
  \draw[assoc,->] (imc1.north) to (cred.south);
  \draw[assoc,->] (imc2.north) |- (crdc) |- (crda);
  \draw[assoc,->] (imc3.north) |- (crdd) |- (crdb);
\end{tikzpicture}
\end{document}
